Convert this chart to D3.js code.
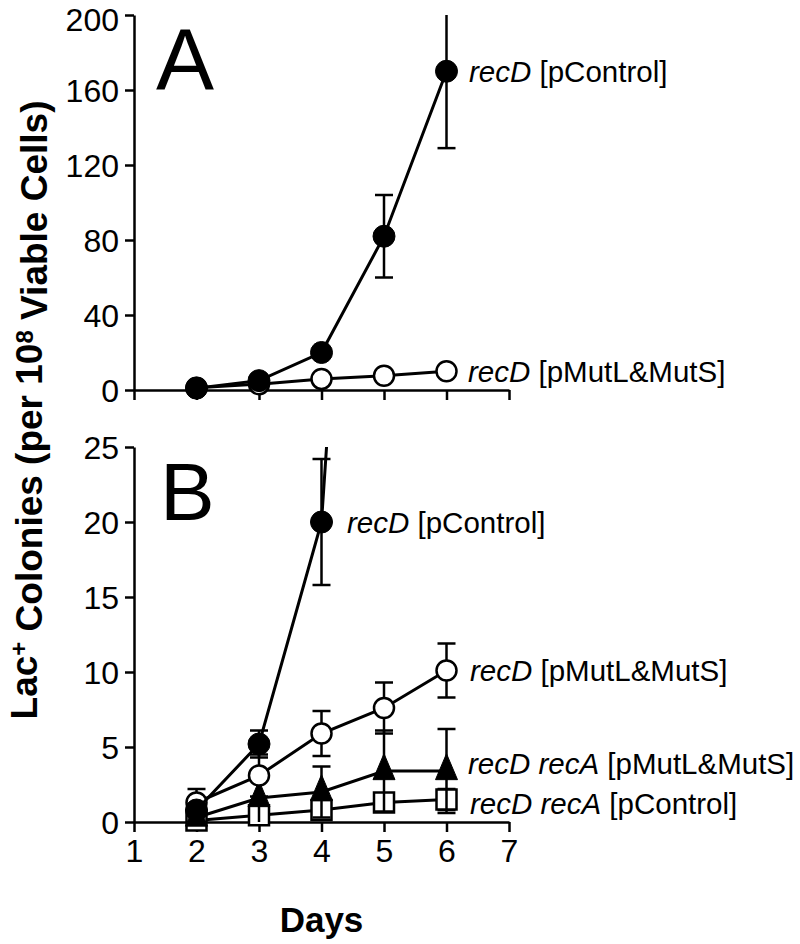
<!DOCTYPE html>
<html>
<head>
<meta charset="utf-8">
<script src="https://cdn.jsdelivr.net/npm/d3@7"></script>
<style>
  html, body { margin: 0; padding: 0; background: #fff; }
  svg { display: block; }
  text { font-family: "Liberation Sans", Arial, Helvetica, sans-serif; fill: #000; }
</style>
</head>
<body>
<svg id="chart" width="800" height="944"></svg>
<script>
// ---------- data ----------
const days = [2, 3, 4, 5, 6];
const xTicks = [1, 2, 3, 4, 5, 6, 7];
const yTicksA = [0, 40, 80, 120, 160, 200];
const yTicksB = [0, 5, 10, 15, 20, 25];

// Panel A
const aRecDControl = [1, 5, 20, 82, 170];
const aRecDControlErr = [0.5, 1, 2, 22, 41];
const aRecDMut = [1.2, 3.1, 5.9, 7.6, 10];
const aRecDMutErr = [0.9, 1.4, 1.5, 1.7, 1.8];

// Panel B
const bRecDControl = [0.8, 5.2, 20, 82, 170];
const bRecDControlErr = [0.4, 0.9, 4.2, 22, 41];
const bRecDMut = [1.3, 3.1, 5.9, 7.6, 10.1];
const bRecDMutErr = [0.9, 1.4, 1.5, 1.7, 1.8];
const bRecARecDMut = [0.3, 1.6, 2.0, 3.4, 3.4];
const bRecARecDMutErr = [0.3, 1.6, 1.7, 2.7, 2.8];
const bRecARecDCtrl = [0.1, 0.45, 0.8, 1.3, 1.5];
const bRecARecDCtrlErr = [0.2, 0.3, 0.4, 0.6, 0.7];

// ---------- layout ----------
const svg = d3.select("#chart");
const x = d3.scaleLinear().domain([1, 7]).range([134, 509]);
const yA = d3.scaleLinear().domain([0, 200]).range([390, 15]);
const yB = d3.scaleLinear().domain([0, 25]).range([822, 447]);

const defs = svg.append("defs");
defs.append("clipPath").attr("id", "clipA").append("rect")
  .attr("x", 0).attr("y", yA(200)).attr("width", 800).attr("height", yA(0) - yA(200) + 40);
defs.append("clipPath").attr("id", "clipB").append("rect")
  .attr("x", 0).attr("y", yB(25)).attr("width", 800).attr("height", yB(0) - yB(25) + 40);

function styleAxis(g) {
  g.selectAll("path.domain").attr("stroke", "#000").attr("stroke-width", 2.5);
  g.selectAll(".tick line").attr("stroke", "#000").attr("stroke-width", 2.5);
  g.selectAll(".tick text").style("font-size", "32px").attr("fill", "#000");
}

function drawAxes(y, yTicks, showXLabels) {
  const gy = svg.append("g").attr("transform", `translate(${x(1)},0)`)
    .call(d3.axisLeft(y).tickValues(yTicks).tickSize(9).tickSizeOuter(0).tickPadding(6).tickFormat(d3.format("d")));
  gy.selectAll(".tick text").attr("dy", d => (y(d) < 30 ? "0.48em" : "0.36em"));
  styleAxis(gy);
  const gx = svg.append("g").attr("transform", `translate(0,${y(0)})`)
    .call(d3.axisBottom(x).tickValues(xTicks).tickSize(10).tickSizeOuter(0).tickPadding(7)
      .tickFormat(showXLabels ? d3.format("d") : () => ""));
  styleAxis(gx);
}

function series(y, clipId, vals, errs, marker) {
  const g = svg.append("g").attr("clip-path", `url(#${clipId})`);
  const pts = days.map((d, i) => ({ d, v: vals[i], e: errs[i] }));
  // line
  g.append("path")
    .attr("d", d3.line().x(p => x(p.d)).y(p => y(p.v))(pts))
    .attr("fill", "none").attr("stroke", "#000").attr("stroke-width", 3);
  // error bars
  const cap = 9;
  pts.forEach(p => {
    const top = p.v + p.e, bot = Math.max(p.v - p.e, 0);
    g.append("line").attr("x1", x(p.d)).attr("x2", x(p.d))
      .attr("y1", y(top)).attr("y2", y(bot))
      .attr("stroke", "#000").attr("stroke-width", 2.5);
    [top, bot].forEach(v => {
      if (v <= y.domain()[1] && v > 0) {
        g.append("line").attr("x1", x(p.d) - cap).attr("x2", x(p.d) + cap)
          .attr("y1", y(v)).attr("y2", y(v))
          .attr("stroke", "#000").attr("stroke-width", 2.5);
      }
    });
  });
  // markers
  pts.forEach(p => {
    const cx = x(p.d), cy = y(p.v);
    if (cy < y.range()[1] - 5) return;
    if (marker === "filledCircle") {
      g.append("circle").attr("cx", cx).attr("cy", cy).attr("r", 11)
        .attr("fill", "#000").attr("stroke", "#000").attr("stroke-width", 1);
    } else if (marker === "openCircle") {
      g.append("circle").attr("cx", cx).attr("cy", cy).attr("r", 10)
        .attr("fill", "#fff").attr("stroke", "#000").attr("stroke-width", 2.5);
    } else if (marker === "triangle") {
      const w = 22, h = 26;
      g.append("path")
        .attr("d", `M${cx},${cy - h * 2 / 3} L${cx + w / 2},${cy + h / 3} L${cx - w / 2},${cy + h / 3} Z`)
        .attr("fill", "#000").attr("stroke", "#000").attr("stroke-width", 1);
    } else if (marker === "square") {
      const s = 20;
      g.append("rect").attr("x", cx - s / 2).attr("y", cy - s / 2).attr("width", s).attr("height", s)
        .attr("fill", "#fff").attr("stroke", "#000").attr("stroke-width", 2.5);
    }
  });
}

function label(xPos, yPos, italic, rest) {
  const t = svg.append("text").attr("x", xPos).attr("y", yPos).attr("dy", "0.36em")
    .style("font-size", "29.5px");
  t.append("tspan").style("font-style", "italic").text(italic);
  t.append("tspan").text(" " + rest);
}

// ---------- Panel A ----------
drawAxes(yA, yTicksA, false);
series(yA, "clipA", aRecDMut, aRecDMutErr, "openCircle");
series(yA, "clipA", aRecDControl, aRecDControlErr, "filledCircle");
svg.append("text").attr("x", 156).attr("y", 90).style("font-size", "87px").text("A");
label(469, yA(aRecDControl[4]), "recD", "[pControl]");
label(468, yA(aRecDMut[4]), "recD", "[pMutL&MutS]");

// ---------- Panel B ----------
drawAxes(yB, yTicksB, true);
series(yB, "clipB", bRecARecDCtrl, bRecARecDCtrlErr, "square");
series(yB, "clipB", bRecARecDMut, bRecARecDMutErr, "triangle");
series(yB, "clipB", bRecDMut, bRecDMutErr, "openCircle");
series(yB, "clipB", bRecDControl, bRecDControlErr, "filledCircle");
svg.append("text").attr("x", 160).attr("y", 520).style("font-size", "82px").text("B");
label(347, yB(bRecDControl[2]), "recD", "[pControl]");
label(470, yB(bRecDMut[4]), "recD", "[pMutL&MutS]");
label(468, 763, "recD recA", "[pMutL&MutS]");
label(470, 803, "recD recA", "[pControl]");

// ---------- axis titles ----------
svg.append("text").attr("x", x(4)).attr("y", 932)
  .attr("text-anchor", "middle").style("font-size", "35px").style("font-weight", "bold").text("Days");

const yt = svg.append("text")
  .attr("transform", "translate(37,410) rotate(-90)")
  .attr("text-anchor", "middle")
  .style("font-size", "37px").style("font-weight", "bold");
yt.append("tspan").text("Lac");
yt.append("tspan").attr("dy", "-0.4em").style("font-size", "24px").text("+");
yt.append("tspan").attr("dy", "0.4em").text(" Colonies (per 10");
yt.append("tspan").attr("dy", "-0.4em").style("font-size", "24px").text("8");
yt.append("tspan").attr("dy", "0.4em").text(" Viable Cells)");
</script>
</body>
</html>
